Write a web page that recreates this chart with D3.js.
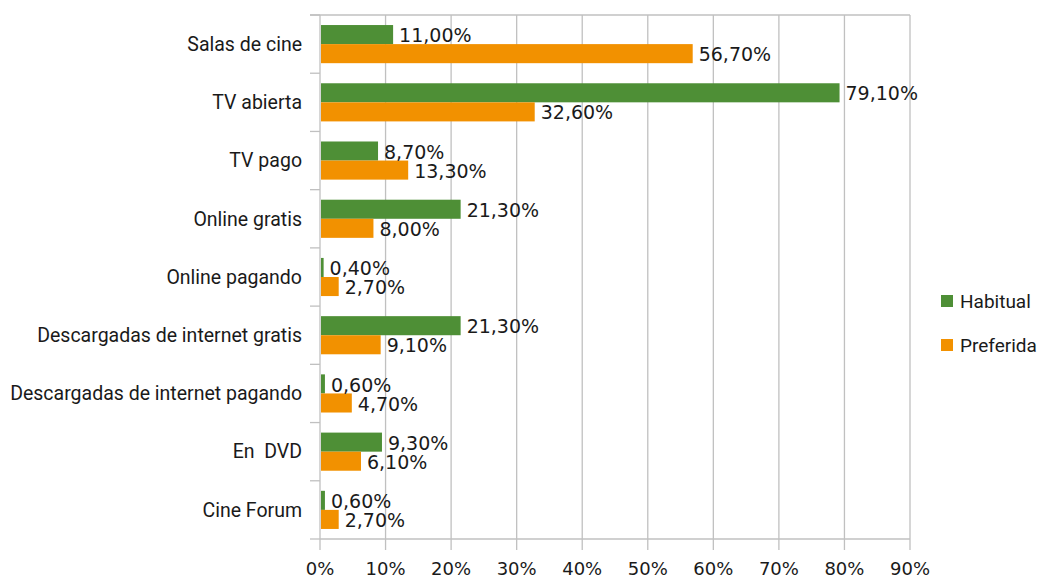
<!DOCTYPE html>
<html>
<head>
<meta charset="utf-8">
<script src="https://cdn.jsdelivr.net/npm/d3@7"></script>
<style>
  body { margin: 0; background: #fff; }
  svg { display: block; }
  text { white-space: pre; }
</style>
</head>
<body>
<div id="container"><svg></svg></div>
<script>
let width = 1038;
let height = 579;

let categories = ['Salas de cine', 'TV abierta', 'TV pago', 'Online gratis', 'Online pagando',
    'Descargadas de internet gratis', 'Descargadas de internet pagando', 'En  DVD', 'Cine Forum'];
let series = ['Habitual', 'Preferida'];
let habitual = [11.0, 79.1, 8.7, 21.3, 0.4, 21.3, 0.6, 9.3, 0.6];
let preferida = [56.7, 32.6, 13.3, 8.0, 2.7, 9.1, 4.7, 6.1, 2.7];
let x_ticks = [0, 10, 20, 30, 40, 50, 60, 70, 80, 90];
let colors = {'Habitual': '#4e8f36', 'Preferida': '#f29100'};

let labelFont = "Roboto, 'Liberation Sans', sans-serif";
let valueFont = "'DejaVu Sans', Verdana, sans-serif";

function draw_main() {
    let padding = {'left': 320, 'right': width - 910, 'top': 15, 'bottom': height - 539};
    let svg = d3.select('#container').select('svg')
        .attr('width', width)
        .attr('height', height);

    let x = d3.scaleLinear()
        .domain([0, 90])
        .range([padding.left, width - padding.right]);
    let y = d3.scaleBand()
        .domain(categories)
        .range([padding.top, height - padding.bottom])
        .paddingInner(0.345)
        .paddingOuter(0.1725);
    let y_inner = d3.scaleBand()
        .domain(series)
        .range([0, y.bandwidth()]);
    let step = y.step();

    // vertical grid
    svg.append('g')
        .selectAll('line')
        .data(x_ticks)
        .enter().append('line')
        .attr('x1', d => x(d)).attr('x2', d => x(d))
        .attr('y1', padding.top).attr('y2', height - padding.bottom + 11)
        .attr('stroke', '#c0c0c0')
        .attr('stroke-width', 1.3);

    // top border
    svg.append('line')
        .attr('x1', padding.left - 10).attr('x2', x(90))
        .attr('y1', padding.top).attr('y2', padding.top)
        .attr('stroke', '#c0c0c0').attr('stroke-width', 1.3);

    // bottom axis line
    svg.append('line')
        .attr('x1', padding.left).attr('x2', x(90))
        .attr('y1', height - padding.bottom).attr('y2', height - padding.bottom)
        .attr('stroke', '#c0c0c0').attr('stroke-width', 1.3);

    // left category separators
    let seps = d3.range(categories.length + 1).map(i => padding.top + i * step);
    svg.append('g')
        .selectAll('line')
        .data(seps)
        .enter().append('line')
        .attr('x1', padding.left - 10).attr('x2', padding.left)
        .attr('y1', d => d).attr('y2', d => d)
        .attr('stroke', '#c0c0c0').attr('stroke-width', 1.3);

    // x tick labels
    svg.append('g')
        .selectAll('text')
        .data(x_ticks)
        .enter().append('text')
        .attr('x', d => x(d))
        .attr('y', 575)
        .attr('text-anchor', 'middle')
        .attr('font-family', valueFont)
        .attr('font-size', '18px')
        .attr('fill', '#1a1a1a')
        .text(d => d + '%');

    // category labels
    svg.append('g')
        .selectAll('text')
        .data(categories)
        .enter().append('text')
        .attr('x', padding.left - 18)
        .attr('y', d => y(d) + y.bandwidth() / 2)
        .attr('dy', '0.35em')
        .attr('text-anchor', 'end')
        .attr('font-family', labelFont)
        .attr('font-size', '19.5px')
        .attr('fill', '#1a1a1a')
        .text(d => d);

    // bars
    let rows = [];
    categories.forEach((c, i) => {
        rows.push({'cat': c, 'ser': 'Habitual', 'val': habitual[i]});
        rows.push({'cat': c, 'ser': 'Preferida', 'val': preferida[i]});
    });

    svg.append('g')
        .selectAll('rect')
        .data(rows)
        .enter().append('rect')
        .attr('x', x(0) + 1)
        .attr('y', d => y(d.cat) + y_inner(d.ser))
        .attr('width', d => x(d.val) - x(0))
        .attr('height', y_inner.bandwidth())
        .attr('fill', d => colors[d.ser]);

    // value labels
    svg.append('g')
        .selectAll('text')
        .data(rows)
        .enter().append('text')
        .attr('x', d => x(d.val) + 7)
        .attr('y', d => y(d.cat) + y_inner(d.ser) + y_inner.bandwidth() / 2)
        .attr('dy', '0.4em')
        .attr('font-family', valueFont)
        .attr('font-size', '19px')
        .attr('fill', '#1a1a1a')
        .text(d => d.val.toFixed(2).replace('.', ',') + '%');

    // legend
    let legend = svg.append('g')
        .selectAll('g')
        .data(series)
        .enter().append('g')
        .attr('transform', (d, i) => `translate(941, ${295 + i * 44})`);
    legend.append('rect')
        .attr('width', 12).attr('height', 12)
        .attr('fill', d => colors[d]);
    legend.append('text')
        .attr('x', 19).attr('y', 6)
        .attr('dy', '0.36em')
        .attr('font-family', labelFont)
        .attr('font-size', '19px')
        .attr('fill', '#1a1a1a')
        .text(d => d);
}

draw_main();
</script>
</body>
</html>
